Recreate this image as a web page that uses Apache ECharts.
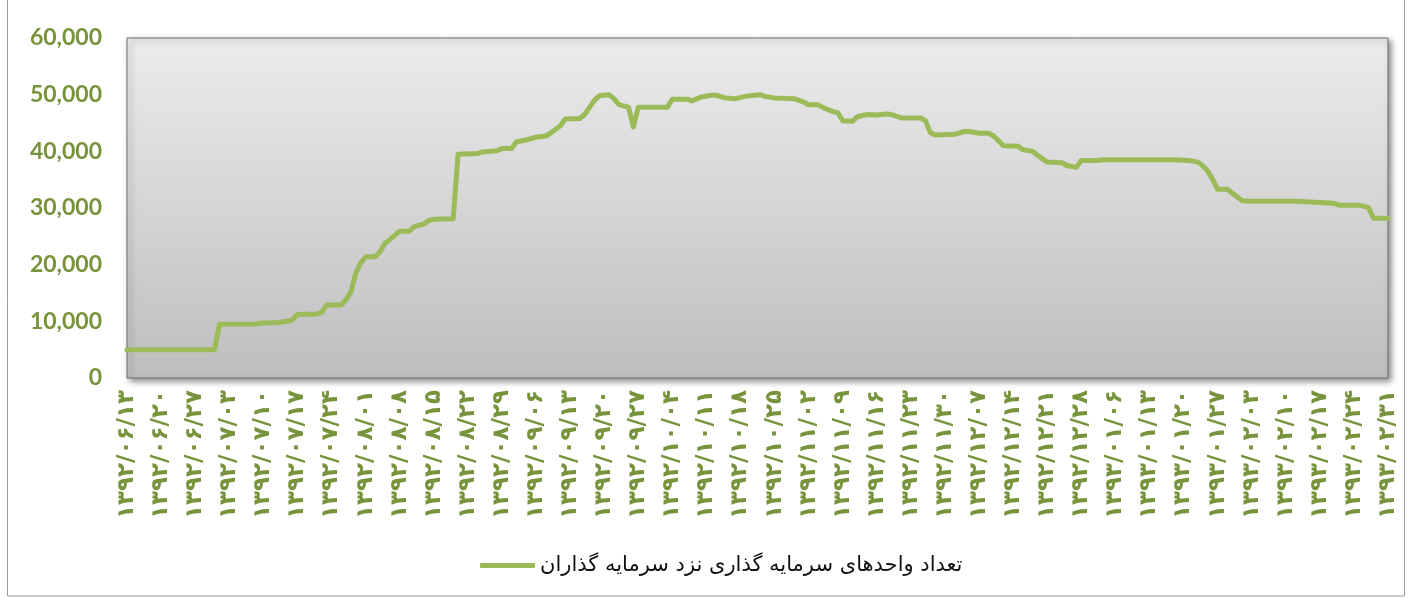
<!DOCTYPE html>
<html>
<head>
<meta charset="utf-8">
<script src="https://cdn.jsdelivr.net/npm/echarts@6/dist/echarts.min.js"></script>
<style>
  html, body { margin: 0; padding: 0; background: #fff; }
  #chart { width: 1408px; height: 598px; }
</style>
</head>
<body>
<div id="chart"></div>
<script>
// one tick label per week (every 7 days)
const weekLabels = [
  '۱۳۹۲/۰۶/۱۳', '۱۳۹۲/۰۶/۲۰', '۱۳۹۲/۰۶/۲۷',
  '۱۳۹۲/۰۷/۰۳', '۱۳۹۲/۰۷/۱۰', '۱۳۹۲/۰۷/۱۷', '۱۳۹۲/۰۷/۲۴',
  '۱۳۹۲/۰۸/۰۱', '۱۳۹۲/۰۸/۰۸', '۱۳۹۲/۰۸/۱۵', '۱۳۹۲/۰۸/۲۲', '۱۳۹۲/۰۸/۲۹',
  '۱۳۹۲/۰۹/۰۶', '۱۳۹۲/۰۹/۱۳', '۱۳۹۲/۰۹/۲۰', '۱۳۹۲/۰۹/۲۷',
  '۱۳۹۲/۱۰/۰۴', '۱۳۹۲/۱۰/۱۱', '۱۳۹۲/۱۰/۱۸', '۱۳۹۲/۱۰/۲۵',
  '۱۳۹۲/۱۱/۰۲', '۱۳۹۲/۱۱/۰۹', '۱۳۹۲/۱۱/۱۶', '۱۳۹۲/۱۱/۲۳', '۱۳۹۲/۱۱/۳۰',
  '۱۳۹۲/۱۲/۰۷', '۱۳۹۲/۱۲/۱۴', '۱۳۹۲/۱۲/۲۱', '۱۳۹۲/۱۲/۲۸',
  '۱۳۹۳/۰۱/۰۶', '۱۳۹۳/۰۱/۱۳', '۱۳۹۳/۰۱/۲۰', '۱۳۹۳/۰۱/۲۷',
  '۱۳۹۳/۰۲/۰۳', '۱۳۹۳/۰۲/۱۰', '۱۳۹۳/۰۲/۱۷', '۱۳۹۳/۰۲/۲۴', '۱۳۹۳/۰۲/۳۱'
]

// day number since 1392/06/13 (only where the line changes)
const days = [
  0, 18, 19, 26, 28, 31, 33, 34, 35, 39, 40, 41, 44, 45, 46, 47, 48, 49, 51, 52,
  53, 54, 56, 58, 59, 61, 62, 63, 67, 68, 72, 73, 76, 77, 79, 80, 82, 84, 86, 87,
  89, 90, 93, 94, 96, 97, 99, 100, 101, 102, 103, 104, 105, 111, 112, 115, 116, 118, 120, 121,
  123, 125, 127, 128, 130, 131, 133, 137, 139, 140, 142, 143, 145, 146, 147, 149, 150, 152, 154, 156,
  157, 159, 163, 164, 165, 166, 170, 172, 173, 175, 177, 178, 180, 183, 184, 186, 187, 189, 192, 193,
  195, 196, 199, 201, 215, 218, 220, 221, 222, 223, 224, 226, 228, 229, 231, 240, 244, 247, 248, 249,
  253, 255, 256, 259
]

// تعداد واحدهای سرمایه گذاری نزد سرمایه گذاران
const units = [
  5000, 5000, 9500, 9500, 9700, 9800, 10000, 10300, 11200, 11300, 11600, 12900, 12900, 13800, 15200, 18500, 20300, 21400, 21400, 22300,
  23800, 24400, 25900, 25900, 26700, 27200, 27800, 28000, 28100, 39500, 39600, 39900, 40100, 40500, 40500, 41700, 42000, 42500, 42700, 43200,
  44500, 45700, 45800, 46500, 49000, 49800, 50000, 49300, 48300, 48000, 47800, 44300, 47800, 47800, 49200, 49200, 48900, 49600, 49900, 49900,
  49400, 49300, 49700, 49800, 50000, 49700, 49400, 49300, 48700, 48200, 48200, 47700, 47000, 46800, 45400, 45300, 46100, 46500, 46400, 46600,
  46500, 45900, 45900, 45400, 43300, 42900, 43000, 43500, 43500, 43200, 43200, 42700, 41000, 40900, 40300, 40000, 39300, 38100, 38000, 37500,
  37200, 38400, 38400, 38500, 38500, 38400, 38100, 37400, 36500, 35000, 33300, 33300, 32000, 31300, 31200, 31200, 31000, 30900, 30800, 30500,
  30500, 30100, 28200, 28200
]

const seriesName = 'تعداد واحدهای سرمایه گذاری نزد سرمایه گذاران'

const green = '#9BBB59'
const darkGreen = '#77933C'

const chart = echarts.init(document.getElementById('chart'))

chart.setOption({
  animation: false,
  backgroundColor: '#fff',
  graphic: [{
    type: 'rect',
    shape: { x: 7.5, y: -2, width: 1397, height: 598 },
    style: { fill: 'none', stroke: '#9a9a9a', lineWidth: 1 },
    silent: true
  }],
  grid: {
    left: 127,
    right: 20,
    top: 38,
    bottom: 220,
    show: true,
    backgroundColor: new echarts.graphic.LinearGradient(0, 0, 0, 1, [
      { offset: 0, color: '#ececec' },
      { offset: 1, color: '#bebebe' }
    ]),
    borderColor: '#6f6f6f',
    borderWidth: 1,
    shadowColor: 'rgba(0,0,0,0.45)',
    shadowBlur: 6,
    shadowOffsetX: 3,
    shadowOffsetY: 3
  },
  legend: {
    left: 475,
    top: 550,
    itemWidth: 55,
    itemHeight: 5,
    itemGap: 6,
    icon: 'roundRect',
    textStyle: {
      fontFamily: 'DejaVu Sans',
      fontSize: 21,
      color: '#111'
    },
    data: [seriesName]
  },
  xAxis: {
    type: 'value',
    min: 0,
    max: 259,
    interval: 7,
    axisLine: { show: false },
    axisTick: { show: false },
    splitLine: { show: false },
    axisLabel: {
      rotate: 90,
      margin: 12,
      showMaxLabel: true,
      color: darkGreen,
      fontFamily: 'DejaVu Sans',
      fontWeight: 'bold',
      fontSize: 23,
      formatter: v => weekLabels[Math.round(v / 7)] || ''
    }
  },
  yAxis: {
    type: 'value',
    min: 0,
    max: 60000,
    interval: 10000,
    axisLine: { show: false },
    axisTick: { show: false },
    splitLine: { show: false },
    axisLabel: {
      margin: 25,
      color: darkGreen,
      fontFamily: 'Lato',
      fontWeight: 'bold',
      fontSize: 23,
      formatter: v => v.toLocaleString('en-US')
    }
  },
  series: [{
    name: seriesName,
    type: 'line',
    data: days.map((d, i) => [d, units[i]]),
    showSymbol: false,
    lineStyle: { color: green, width: 5, join: 'round', cap: 'round' },
    itemStyle: { color: green }
  }]
})
</script>
</body>
</html>
